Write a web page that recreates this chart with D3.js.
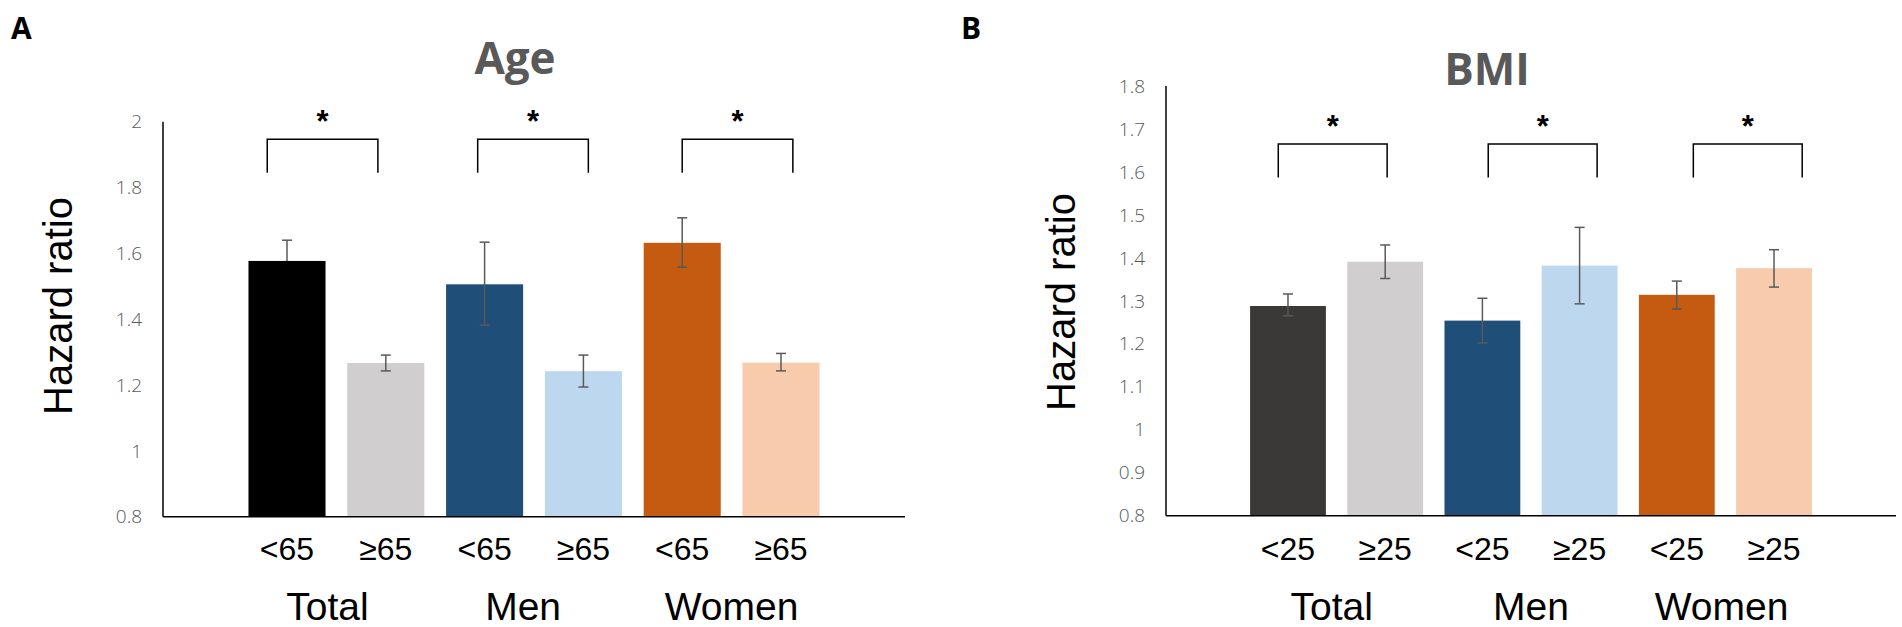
<!DOCTYPE html>
<html>
<head>
<meta charset="utf-8">
<script src="https://cdn.jsdelivr.net/npm/d3@7"></script>
<style>
  html, body { margin: 0; padding: 0; background: #fff; }
  svg { display: block; }
  .tick-label { font-family: "Open Sans", sans-serif; font-weight: 300; font-size: 19px; fill: #595959; }
  .sub-label { font-family: "Liberation Sans", Arial, sans-serif; font-size: 32px; fill: #000; }
  .group-label { font-family: "Liberation Sans", Arial, sans-serif; font-size: 39px; fill: #000; }
  .axis-title { font-family: "Liberation Sans", Arial, sans-serif; font-size: 40px; fill: #000; }
  .panel-title { font-family: "Open Sans", sans-serif; font-weight: 700; font-size: 44px; fill: #595959; }
  .panel-letter { font-family: "Open Sans", sans-serif; font-weight: 700; font-size: 30px; fill: #000; }
  .star { font-family: "Liberation Sans", Arial, sans-serif; font-weight: 700; font-size: 31px; fill: #000; }
</style>
</head>
<body>
<svg width="1902" height="627"></svg>
<script>
// groups and levels
const groups = ['Total', 'Men', 'Women'];
const ageLevels = ['<65', '≥65'];
const bmiLevels = ['<25', '≥25'];

// hazard ratios, order: Total <, Total ≥, Men <, Men ≥, Women <, Women ≥
const ageHR = [1.577, 1.267, 1.506, 1.242, 1.632, 1.268];
const ageLow = [null, 1.243, 1.382, 1.194, 1.558, 1.243];
const ageHigh = [1.640, 1.291, 1.634, 1.291, 1.708, 1.296];

const bmiHR = [1.288, 1.391, 1.254, 1.382, 1.314, 1.376];
const bmiLow = [1.265, 1.352, 1.202, 1.293, 1.281, 1.332];
const bmiHigh = [1.316, 1.430, 1.306, 1.471, 1.346, 1.419];

const ageTicks = [0.8, 1, 1.2, 1.4, 1.6, 1.8, 2];
const bmiTicks = [0.8, 0.9, 1, 1.1, 1.2, 1.3, 1.4, 1.5, 1.6, 1.7, 1.8];

const ageColors = ['#000000', '#d0cece', '#1f4e79', '#bdd7ee', '#c55a11', '#f8cbad'];
const bmiColors = ['#3b3838', '#d0cece', '#1f4e79', '#bdd7ee', '#c55a11', '#f8cbad'];

const svg = d3.select('svg');

const drawPanel = (cfg) => {
  const keys = groups.flatMap((g) => cfg.levels.map((l) => g + '|' + l));
  const bars = keys.map((k, i) => ({
    key: k,
    group: k.split('|')[0],
    level: k.split('|')[1],
    value: cfg.values[i],
    low: cfg.low[i],
    high: cfg.high[i],
    color: cfg.colors[i],
  }));

  const x = d3
    .scaleBand()
    .domain(keys)
    .range([cfg.left, cfg.right])
    .paddingInner(0.22)
    .paddingOuter(0.865);

  const y = d3.scaleLinear().domain(cfg.domain).range([cfg.bottom, cfg.top]);

  const g = svg.append('g');

  // panel letter + title
  g.append('text')
    .attr('class', 'panel-letter')
    .attr('x', cfg.letterX)
    .attr('y', 39)
    .text(cfg.letter);

  g.append('text')
    .attr('class', 'panel-title')
    .attr('x', cfg.titleX)
    .attr('y', cfg.titleY)
    .attr('text-anchor', 'middle')
    .text(cfg.title);

  // y tick labels (no tick marks)
  g.append('g')
    .selectAll('text')
    .data(cfg.ticks)
    .enter()
    .append('text')
    .attr('class', 'tick-label')
    .attr('x', cfg.left - 21)
    .attr('y', (d) => y(d))
    .attr('dy', '0.35em')
    .attr('text-anchor', 'end')
    .text((d) => d);

  // y axis title
  g.append('text')
    .attr('class', 'axis-title')
    .attr('transform', `translate(${cfg.left - 91},${cfg.titleMid}) rotate(-90)`)
    .attr('text-anchor', 'middle')
    .text('Hazard ratio');

  // bars
  g.append('g')
    .selectAll('rect')
    .data(bars)
    .enter()
    .append('rect')
    .attr('x', (d) => x(d.key))
    .attr('y', (d) => y(d.value))
    .attr('width', x.bandwidth())
    .attr('height', (d) => y(cfg.domain[0]) - y(d.value))
    .attr('fill', (d) => d.color);

  // error bars
  const cap = 5;
  const err = g.append('g').attr('stroke', '#595959').attr('stroke-width', 1.5).attr('fill', 'none');
  bars.forEach((d) => {
    const cx = x(d.key) + x.bandwidth() / 2;
    const lo = d.low == null ? d.value : d.low;
    err.append('line').attr('x1', cx).attr('x2', cx).attr('y1', y(d.high)).attr('y2', y(lo));
    err.append('line').attr('x1', cx - cap).attr('x2', cx + cap).attr('y1', y(d.high)).attr('y2', y(d.high));
    if (d.low != null) {
      err.append('line').attr('x1', cx - cap).attr('x2', cx + cap).attr('y1', y(d.low)).attr('y2', y(d.low));
    }
  });

  // axes lines
  g.append('line')
    .attr('x1', cfg.left).attr('x2', cfg.left)
    .attr('y1', y(cfg.domain[1])).attr('y2', y(cfg.domain[0]))
    .attr('stroke', '#000').attr('stroke-width', 1.5);
  g.append('line')
    .attr('x1', cfg.left).attr('x2', cfg.right)
    .attr('y1', y(cfg.domain[0])).attr('y2', y(cfg.domain[0]))
    .attr('stroke', '#000').attr('stroke-width', 1.5);

  // level labels
  g.append('g')
    .selectAll('text')
    .data(bars)
    .enter()
    .append('text')
    .attr('class', 'sub-label')
    .attr('x', (d) => x(d.key) + x.bandwidth() / 2)
    .attr('y', 560)
    .attr('text-anchor', 'middle')
    .text((d) => d.level);

  // group labels
  const step = x.step();
  const pairCenter = (grp) =>
    (x(grp + '|' + cfg.levels[0]) + x(grp + '|' + cfg.levels[1]) + x.bandwidth()) / 2;

  g.append('g')
    .selectAll('text')
    .data(groups)
    .enter()
    .append('text')
    .attr('class', 'group-label')
    .attr('x', (d, i) => pairCenter(d) + cfg.labelShift[i] * step)
    .attr('y', 620)
    .attr('text-anchor', 'middle')
    .text((d) => d);

  // significance brackets
  const bw = step * 1.12;
  groups.forEach((grp, i) => {
    const c = pairCenter(grp) + cfg.bracketShift[i] * step;
    const yt = y(cfg.bracketTop);
    const yb = y(cfg.bracketBottom);
    g.append('path')
      .attr('d', `M${c - bw / 2},${yb}V${yt}H${c + bw / 2}V${yb}`)
      .attr('fill', 'none')
      .attr('stroke', '#000')
      .attr('stroke-width', 1.5);
    g.append('text')
      .attr('class', 'star')
      .attr('x', c)
      .attr('y', yt - 7)
      .attr('text-anchor', 'middle')
      .text('*');
  });
};

drawPanel({
  letter: 'A', letterX: 11,
  title: 'Age', titleX: 515, titleY: 74,
  levels: ageLevels,
  values: ageHR, low: ageLow, high: ageHigh,
  colors: ageColors,
  ticks: ageTicks, domain: [0.8, 2],
  left: 163, right: 905, top: 121.7, bottom: 516.7, titleMid: 306,
  bracketTop: 1.947, bracketBottom: 1.845,
  bracketShift: [-0.14, -0.01, 0.06],
  labelShift: [-0.09, -0.11, 0],
});

drawPanel({
  letter: 'B', letterX: 961,
  title: 'BMI', titleX: 1487, titleY: 85,
  levels: bmiLevels,
  values: bmiHR, low: bmiLow, high: bmiHigh,
  colors: bmiColors,
  ticks: bmiTicks, domain: [0.8, 1.8],
  left: 1166, right: 1896, top: 86, bottom: 515.7, titleMid: 302,
  bracketTop: 1.665, bracketBottom: 1.587,
  bracketShift: [-0.04, 0.12, 0.23],
  labelShift: [-0.05, 0, -0.04],
});
</script>
</body>
</html>
